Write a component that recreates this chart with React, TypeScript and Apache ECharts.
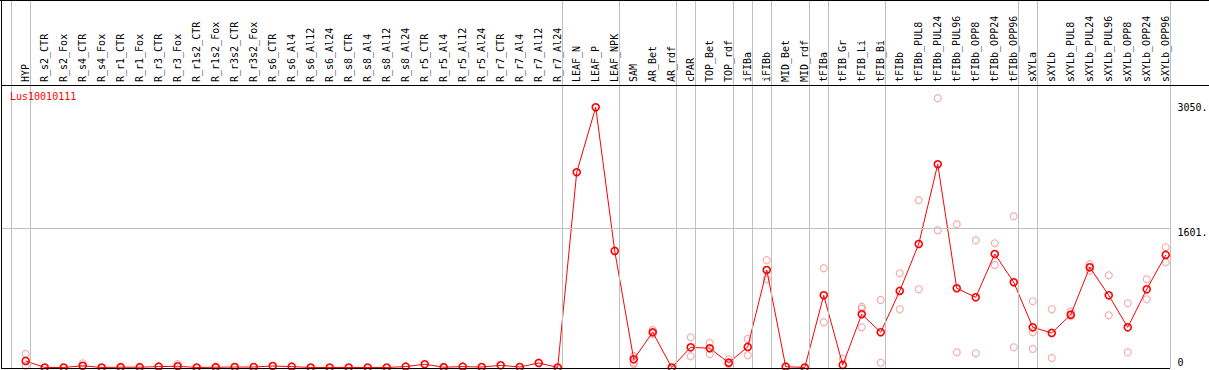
import React, { useEffect, useRef } from "react";
import * as echarts from "echarts";

const categories: string[] = [
  "HYP", "R_s2_CTR", "R_s2_Fox", "R_s4_CTR", "R_s4_Fox", "R_r1_CTR", "R_r1_Fox", "R_r3_CTR", "R_r3_Fox",
  "R_r1s2_CTR", "R_r1s2_Fox", "R_r3s2_CTR", "R_r3s2_Fox", "R_s6_CTR", "R_s6_Al4", "R_s6_Al12", "R_s6_Al24",
  "R_s8_CTR", "R_s8_Al4", "R_s8_Al12", "R_s8_Al24", "R_r5_CTR", "R_r5_Al4", "R_r5_Al12", "R_r5_Al24",
  "R_r7_CTR", "R_r7_Al4", "R_r7_Al12", "R_r7_Al24", "LEAF_N", "LEAF_P", "LEAF_NPK", "SAM", "AR_Bet", "AR_rdf",
  "cPAR", "TOP_Bet", "TOP_rdf", "iFIBa", "iFIBb", "MID_Bet", "MID_rdf", "tFIBa", "tFIB_Gr", "tFIB_Li", "tFIB_Bi",
  "tFIBb", "tFIBb_PUL8", "tFIBb_PUL24", "tFIBb_PUL96", "tFIBb_OPP8", "tFIBb_OPP24", "tFIBb_OPP96",
  "sXYLa", "sXYLb", "sXYLb_PUL8", "sXYLb_PUL24", "sXYLb_PUL96", "sXYLb_OPP8", "sXYLb_OPP24", "sXYLb_OPP96",
];

const meanValues: number[] = [
  75, 0, 0, 20, 0, 3, 3, 10, 14, 0, 3, 5, 5, 17, 10, 0, 0, 0, 0, 0, 10, 37, 3, 10, 5, 25, 5, 52, 0,
  2245, 2992, 1340, 94, 405, 0, 232, 221, 55, 236, 1121, 9, 0, 830, 29, 612, 405,
  880, 1420, 2337, 911, 807, 1305, 980, 462, 397, 607, 1152, 830, 462, 899, 1294,
];

// replicate values per category index
const replicates: [number, number[]][] = [
  [0, [155, 20]],
  [3, [48]],
  [8, [37]],
  [32, [130, 55, 40]],
  [33, [430, 385]],
  [35, [347, 129]],
  [36, [282, 152]],
  [37, [94, 40]],
  [38, [328, 140]],
  [39, [1233, 1014]],
  [42, [1141, 520]],
  [43, [101]],
  [44, [699, 676, 462]],
  [45, [776, 55]],
  [46, [1083, 669]],
  [47, [1923, 899]],
  [48, [3096, 1578]],
  [49, [1647, 175]],
  [50, [1463, 163]],
  [51, [1428, 1179]],
  [52, [1739, 232]],
  [53, [761, 405, 213]],
  [54, [669, 109]],
  [55, [642, 590]],
  [56, [1187, 1113]],
  [57, [1060, 600]],
  [58, [738, 175]],
  [59, [1014, 784]],
  [60, [1382, 1210]],
];

// group separators drawn after these category indices
const separatorsAfter: number[] = [-1, 0, 28, 31, 34, 35, 37, 38, 39, 41, 42, 45, 52, 53, 60];

const yTickLabels: number[] = [0, 1601, 3050];
const geneName = "Lus10010111";

const FONT = "'DejaVu Sans Mono', 'Liberation Mono', monospace";

export default function App() {
  const ref = useRef<HTMLDivElement>(null);

  useEffect(() => {
    if (!ref.current) return;
    const chart = echarts.init(ref.current, undefined, { renderer: "svg" });

    const meanData = meanValues.map((v, i) => [i, v]);
    const repData: number[][] = [];
    replicates.forEach(([i, vals]) => vals.forEach((v) => repData.push([i, v])));

    const sepLines = separatorsAfter.map((i) => ({ xAxis: i + 0.23 }));
    const labelOffsets: Record<number, number> = { 0: -5, 1601: 4, 3050: 5 };
    const yLines = yTickLabels.map((v) => ({
      yAxis: v,
      lineStyle: {
        color: v === 1601 ? "#c0c0c0" : "rgba(255,255,255,0)",
        width: 1,
        type: "solid",
      },
      label: {
        show: true,
        position: "end",
        distance: 7,
        offset: [0, labelOffsets[v] ?? 0],
        formatter: v === 0 ? "0" : `${v}.`,
        color: "#000",
        fontFamily: FONT,
        fontSize: 10,
      },
    }));

    chart.setOption({
      animation: false,
      title: {
        text: geneName,
        left: 10,
        top: 91,
        padding: 0,
        textStyle: { color: "#ff0000", fontFamily: FONT, fontSize: 10, fontWeight: "normal" },
      },
      grid: { left: 1, top: 0, width: 1169.5, height: 368, containLabel: false },
      xAxis: {
        type: "value",
        min: -1.3,
        max: 60.25,
        position: "top",
        offset: -85,
        axisLine: { show: false },
        axisTick: { show: false },
        splitLine: { show: false },
        axisLabel: {
          customValues: categories.map((_, i) => i),
          formatter: (v: number) => categories[Math.round(v)] ?? "",
          rotate: 90,
          margin: 3,
          color: "#000",
          fontFamily: FONT,
          fontSize: 10,
          hideOverlap: false,
        },
      },
      yAxis: {
        type: "value",
        min: -6,
        max: 4226,
        position: "right",
        show: false,
        splitLine: { show: false },
      },
      series: [
        {
          type: "scatter",
          data: repData,
          symbol: "circle",
          symbolSize: 7,
          itemStyle: { color: "rgba(0,0,0,0)", borderColor: "#ef9a9a", borderWidth: 1.2 },
          z: 2,
          silent: true,
        },
        {
          type: "line",
          data: meanData,
          symbol: "circle",
          symbolSize: 7,
          lineStyle: { color: "#ff0000", width: 1 },
          itemStyle: { color: "rgba(0,0,0,0)", borderColor: "#ff0000", borderWidth: 1.6 },
          z: 3,
          silent: true,
          markLine: {
            silent: true,
            symbol: "none",
            animation: false,
            lineStyle: { color: "#c0c0c0", width: 1, type: "solid" },
            label: { show: false },
            data: [...sepLines, ...yLines],
          },
        },
      ],
      graphic: [
        { type: "line", shape: { x1: 1.5, y1: 0, x2: 1.5, y2: 369 }, style: { stroke: "#000", lineWidth: 1 }, z: 10 },
        { type: "line", shape: { x1: 0, y1: 0.5, x2: 1209, y2: 0.5 }, style: { stroke: "#000", lineWidth: 1 }, z: 10 },
        { type: "line", shape: { x1: 1, y1: 85.5, x2: 1209, y2: 85.5 }, style: { stroke: "#000", lineWidth: 1 }, z: 10 },
        { type: "line", shape: { x1: 1, y1: 368.5, x2: 1170, y2: 368.5 }, style: { stroke: "#000", lineWidth: 1 }, z: 10 },
      ],
    });

    return () => chart.dispose();
  }, []);

  return (
    <div
      ref={ref}
      style={{ position: "absolute", left: 0, top: 0, width: 1209, height: 370, background: "#fff" }}
    />
  );
}
